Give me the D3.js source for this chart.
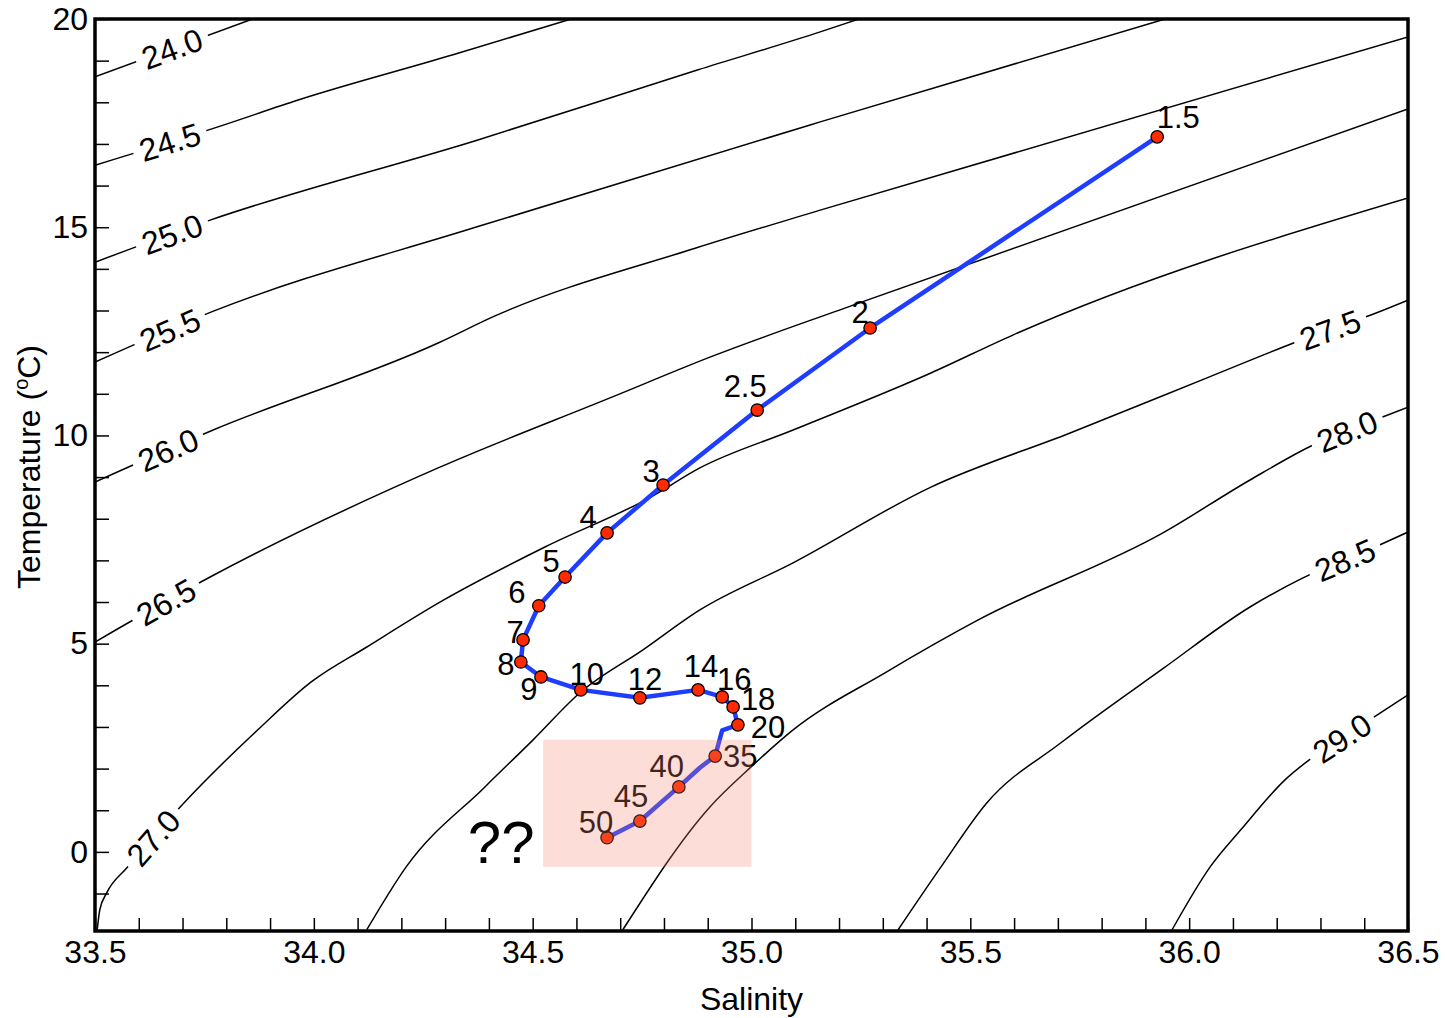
<!DOCTYPE html>
<html>
<head>
<meta charset="utf-8">
<title>T-S diagram</title>
<script src="https://d3js.org/d3.v7.min.js"></script>
<style>
body { margin: 0; background: #fff; font-family: "Liberation Sans", Arial, sans-serif; }
</style>
</head>
<body>
<script>
// sigma-t contours, [salinity, temperature]
const sig240 = [[33.50,18.61],[33.86,20.0]];
const sig245 = [[33.50,16.49],[33.781,17.41],[33.966,18.06],[34.318,19.14],[34.588,20.0]];
const sig250 = [[33.50,14.16],[33.763,15.17],[34.373,17.09],[34.878,18.78],[35.157,19.69],[35.246,20.0]];
const sig255 = [[33.50,11.76],[33.772,12.99],[34.373,15.01],[35.157,17.53],[35.945,20.0]];
const sig260 = [[33.50,8.88],[33.770,10.13],[34.284,12.22],[34.414,12.87],[34.873,14.50],[35.157,15.41],[36.50,19.57]];
const sig265 = [[33.50,5.04],[33.763,6.60],[34.284,9.22],[34.681,10.92],[34.905,11.88],[35.232,13.13],[36.50,17.84]];
const sig270 = [[33.505,-1.87],[33.511,-1.39],[33.527,-0.98],[33.573,-0.38],[33.701,1.15],[33.877,2.98],[33.994,4.08],
  [34.121,4.92],[34.297,6.05],[34.528,7.32],[34.770,8.52],[34.882,9.22],[35.095,10.13],[35.410,11.50],[35.597,12.41],[36.50,15.70]];
const sig275 = [[34.121,-1.87],[34.211,-0.36],[34.391,1.56],[34.501,2.69],[34.608,3.82],[34.752,4.85],[34.882,5.81],
  [35.095,6.94],[35.410,8.76],[35.728,10.06],[36.045,11.40],[36.246,12.25],[36.427,12.94],[36.50,13.25]];
const sig280 = [[34.706,-1.87],[34.905,1.08],[34.999,2.04],[35.095,2.93],[35.305,4.30],[35.518,5.57],[35.940,7.66],
  [36.139,8.93],[36.283,9.77],[36.436,10.42],[36.50,10.68]];
const sig285 = [[35.335,-1.87],[35.433,-0.36],[35.538,1.18],[35.707,2.62],[35.940,4.40],[36.139,5.88],[36.260,6.58],
  [36.425,7.32],[36.50,7.68]];
const sig290 = [[35.961,-1.87],[36.048,-0.36],[36.118,0.53],[36.219,1.73],[36.283,2.28],[36.402,3.10],[36.50,3.77]];

const contourLevels = ["24.0","24.5","25.0","25.5","26.0","26.5","27.0","27.5","28.0","28.5","29.0"];
const contourLines = [sig240, sig245, sig250, sig255, sig260, sig265, sig270, sig275, sig280, sig285, sig290];
// salinity where each contour carries its label
const contourLabelS = [33.676, 33.671, 33.676, 33.671, 33.667, 33.662, 33.633, 36.322, 36.361, 36.356, 36.349];

// station profile (null label = vertex without a marker)
const profileS = [35.927, 35.271, 35.013, 34.798, 34.670, 34.574, 34.514, 34.478, 34.473, 34.519, 34.610,
  34.745, 34.878, 34.933, 34.958, 34.969, 34.933, 34.917, 34.882, 34.834, 34.745, 34.670];
const profileT = [17.17, 12.58, 10.61, 8.81, 7.66, 6.60, 5.91, 5.09, 4.56, 4.20, 3.89,
  3.70, 3.89, 3.72, 3.48, 3.05, 2.92, 2.30, 2.02, 1.56, 0.74, 0.34];
const profileLabel = ["1.5","2","2.5","3","4","5","6","7","8","9","10",
  "12","14","16","18","20",null,"35",null,"40","45","50"];

const salinityLabels = [33.5, 34.0, 34.5, 35.0, 35.5, 36.0, 36.5];
const tempLabels = [0, 5, 10, 15, 20];
const highlightS = [34.524, 35.0], highlightT = [-0.36, 2.69];

// label nudges in pixels
const labelNudge = {
  "1.5":[21,-9], "2":[-10,-5], "2.5":[-12,-13], "3":[-12,-3], "4":[-19,-5], "5":[-14,-5], "6":[-22,-3],
  "7":[-8,3], "8":[-15,13], "9":[-12,23], "10":[6,-5], "12":[5,-8], "14":[3,-13], "16":[12,-7],
  "18":[25,3], "20":[30,13], "35":[25,11], "40":[-12,-10], "45":[-9,-14], "50":[-11,-5]
};

var width = 1445, height = 1018;
var svg = d3.select("body").append("svg")
  .attr("width", width).attr("height", height)
  .style("display", "block");

var x = d3.scaleLinear().domain([33.5, 36.5]).range([95, 1408]);
var y = d3.scaleLinear().domain([-1.9, 20]).range([931, 19]);

svg.append("clipPath").attr("id", "plot")
  .append("rect")
  .attr("x", x(33.5)).attr("y", y(20))
  .attr("width", x(36.5) - x(33.5)).attr("height", y(-1.9) - y(20));

var line = d3.line().x(d => x(d[0])).y(d => y(d[1])).curve(d3.curveMonotoneX);

var cg = svg.append("g").attr("clip-path", "url(#plot)");
cg.selectAll("path.contour")
  .data(contourLines)
  .enter().append("path")
  .attr("class", "contour")
  .attr("d", line)
  .attr("fill", "none")
  .attr("stroke", "#000")
  .attr("stroke-width", 1.5);

// contour labels, sitting in a white gap on the line
contourLines.forEach(function(pts, i) {
  var px = pts.map(p => [x(p[0]), y(p[1])]);
  var tx = x(contourLabelS[i]);
  var k = 0;
  while (k < px.length - 2 && px[k + 1][0] < tx) k++;
  var a = px[k], b = px[k + 1];
  var f = (tx - a[0]) / (b[0] - a[0]);
  var ty = a[1] + f * (b[1] - a[1]);
  var ang = Math.atan2(b[1] - a[1], b[0] - a[0]) * 180 / Math.PI;
  var lg = svg.append("g").attr("transform", "translate(" + tx + "," + ty + ") rotate(" + ang + ")");
  var t = lg.append("text")
    .attr("text-anchor", "middle")
    .attr("dy", "0.36em")
    .attr("font-size", 32)
    .attr("fill", "#000")
    .text(contourLevels[i]);
  var w = t.node().getComputedTextLength() + 14;
  lg.insert("rect", "text")
    .attr("x", -w / 2).attr("y", -14).attr("width", w).attr("height", 28)
    .attr("fill", "#fff");
});

// profile
var pg = svg.append("g");
pg.append("path")
  .datum(profileS.map((s, i) => [s, profileT[i]]))
  .attr("d", d3.line().x(d => x(d[0])).y(d => y(d[1])))
  .attr("fill", "none")
  .attr("stroke", "#1f3dff")
  .attr("stroke-width", 4.5)
  .attr("stroke-linejoin", "round");

var marked = profileS.map((s, i) => ({s: s, t: profileT[i], label: profileLabel[i]})).filter(d => d.label);

pg.selectAll("circle")
  .data(marked)
  .enter().append("circle")
  .attr("cx", d => x(d.s)).attr("cy", d => y(d.t))
  .attr("r", 6.2)
  .attr("fill", "#ff2a00")
  .attr("stroke", "#000")
  .attr("stroke-width", 1.3);

pg.selectAll("text")
  .data(marked)
  .enter().append("text")
  .attr("x", d => x(d.s) + labelNudge[d.label][0])
  .attr("y", d => y(d.t) + labelNudge[d.label][1])
  .attr("text-anchor", "middle")
  .attr("font-size", 31)
  .attr("fill", "#000")
  .text(d => d.label);

// question marks and pale highlight laid over the deep water
svg.append("text")
  .attr("x", x(34.428)).attr("y", y(-0.26))
  .attr("text-anchor", "middle")
  .attr("font-size", 60)
  .text("??");

svg.append("rect")
  .attr("x", x(highlightS[0])).attr("y", y(highlightT[1]))
  .attr("width", x(highlightS[1]) - x(highlightS[0]))
  .attr("height", y(highlightT[0]) - y(highlightT[1]))
  .attr("fill", "rgb(245,130,110)")
  .attr("fill-opacity", 0.27);

// axes
var minorS = d3.range(0, 31).map(i => +(33.5 + i * 0.1).toFixed(1));
var xAxis = d3.axisBottom(x)
  .tickValues(minorS)
  .tickSize(-13)
  .tickPadding(9)
  .tickFormat(d => salinityLabels.some(v => Math.abs(v - d) < 1e-6) ? d3.format(".1f")(d) : "");
var gx = svg.append("g").attr("transform", "translate(0," + y(-1.9) + ")").call(xAxis);

var minorT = d3.range(-1, 21);
var yAxis = d3.axisLeft(y)
  .tickValues(minorT)
  .tickSize(-14)
  .tickPadding(7)
  .tickFormat(d => tempLabels.indexOf(d) >= 0 ? d : "");
var gy = svg.append("g").attr("transform", "translate(" + x(33.5) + ",0)").call(yAxis);

[gx, gy].forEach(function(g) {
  g.select(".domain").remove();
  g.selectAll(".tick line").attr("stroke", "#000").attr("stroke-width", 1.5);
  g.selectAll(".tick text")
    .attr("font-family", "'Liberation Sans', Arial, sans-serif")
    .attr("font-size", 32)
    .attr("fill", "#000");
});

svg.append("rect")
  .attr("x", x(33.5)).attr("y", y(20))
  .attr("width", x(36.5) - x(33.5)).attr("height", y(-1.9) - y(20))
  .attr("fill", "none")
  .attr("stroke", "#000")
  .attr("stroke-width", 3.5);

// axis titles
svg.append("text")
  .attr("x", (x(33.5) + x(36.5)) / 2)
  .attr("y", 1010)
  .attr("text-anchor", "middle")
  .attr("font-size", 32)
  .text("Salinity");

var yt = svg.append("text")
  .attr("transform", "translate(40,467) rotate(-90)")
  .attr("text-anchor", "middle")
  .attr("font-size", 32);
yt.append("tspan").text("Temperature (");
yt.append("tspan").attr("font-size", 20).attr("dy", -12).text("o");
yt.append("tspan").attr("dy", 12).text("C)");
</script>
</body>
</html>
